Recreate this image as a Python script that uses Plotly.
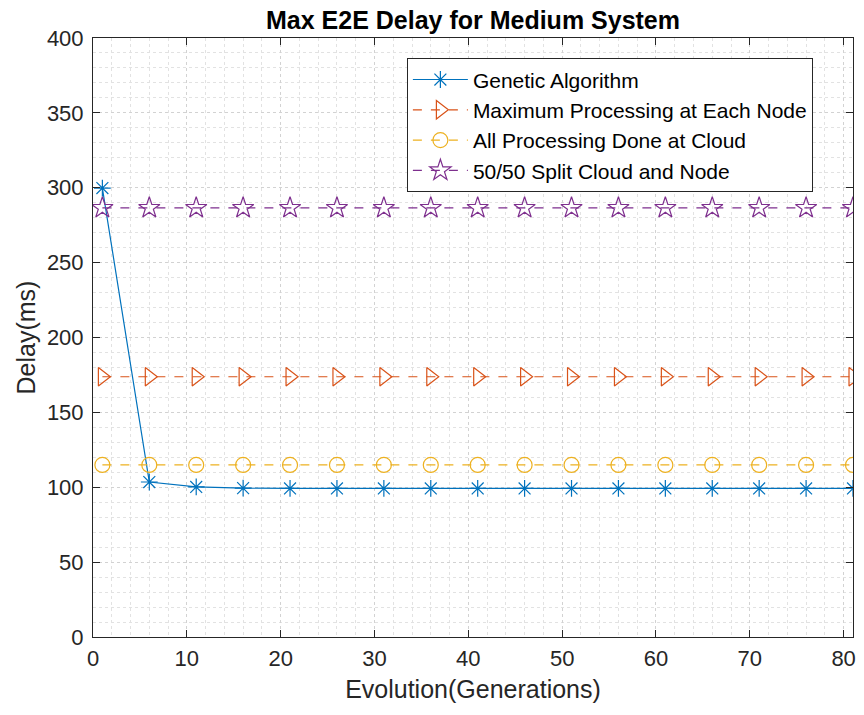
import plotly.graph_objects as go

generations = [1, 6, 11, 16, 21, 26, 31, 36, 41, 46, 51, 56, 61, 66, 71, 76, 81]
ga = [299.8, 103.5, 100.2, 99.4, 99.2, 99.2, 99.2, 99.2, 99.2, 99.2, 99.2, 99.2, 99.2, 99.2, 99.2, 99.2, 99.2]
max_node = [173.8] * 17
all_cloud = [114.9] * 17
split = [286.5] * 17

names = ["Genetic Algorithm", "Maximum Processing at Each Node",
         "All Processing Done at Cloud", "50/50 Split Cloud and Node"]
colors = ["#0072BD", "#D95319", "#EDB120", "#7E2F8E"]
symbols = ["asterisk-open", "triangle-right-open", "circle-open", "star-open"]
sizes = [14, 16, 15, 16]
dashes = ["solid", "dash", "dash", "dash"]
series = [ga, max_node, all_cloud, split]

FONT = "Liberation Sans, Arial, Helvetica"

fig = go.Figure()
for n, c, s, sz, d, y in zip(names, colors, symbols, sizes, dashes, series):
    fig.add_trace(go.Scatter(
        x=generations, y=y, name=n, mode="lines+markers",
        line=dict(color=c, width=1.2, dash=d),
        marker=dict(symbol=s, size=sz, color=c, line=dict(color=c, width=1.2)),
    ))

axis_common = dict(
    showline=True, linecolor="#262626", linewidth=1, mirror="ticks",
    ticks="inside", ticklen=7, tickcolor="#262626",
    showgrid=True, gridcolor="#d2d2d2", gridwidth=1, griddash="dot",
    zeroline=False,
    tickfont=dict(family=FONT, size=22, color="#262626"),
)

fig.update_xaxes(
    range=[0, 81], dtick=10, tick0=0,
    minor=dict(dtick=2, showgrid=True, gridcolor="#e2e2e2", griddash="dot", ticks=""),
    title=dict(text="Evolution(Generations)", font=dict(family=FONT, size=25, color="#262626"), standoff=10),
    ticklabelstandoff=2,
    **axis_common,
)
fig.update_yaxes(
    range=[0, 400], dtick=50, tick0=0,
    minor=dict(dtick=10, showgrid=True, gridcolor="#e2e2e2", griddash="dot", ticks=""),
    title=dict(text="Delay(ms)", font=dict(family=FONT, size=25, color="#262626"), standoff=4),
    ticklabelstandoff=4,
    **axis_common,
)

fig.update_layout(
    width=864, height=715,
    margin=dict(l=93, r=8, t=38, b=78),
    plot_bgcolor="white", paper_bgcolor="white",
    title=dict(text="<b>Max E2E Delay for Medium System</b>", x=0.5, xanchor="center",
               xref="paper", y=0.972, yanchor="middle",
               font=dict(family=FONT, size=25, color="black")),
    legend=dict(x=0.413, y=0.966, xanchor="left", yanchor="top",
                bgcolor="white", bordercolor="#262626", borderwidth=1,
                font=dict(family=FONT, size=21, color="black"),
                tracegroupgap=0, itemwidth=55),
    showlegend=True,
)

fig.write_html("out.html")
